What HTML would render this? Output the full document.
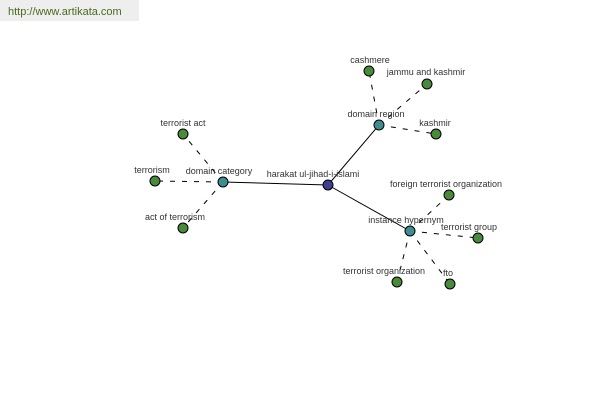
<!DOCTYPE html>
<html><head><style>html,body{margin:0;padding:0;background:#fff;width:600px;height:400px;overflow:hidden}</style></head><body>
<svg width="600" height="400" xmlns="http://www.w3.org/2000/svg" style="position:absolute;left:0;top:0">
<rect x="0" y="0" width="139" height="21" fill="#eeeeee"/>
<text x="8" y="15" font-family="Liberation Sans, sans-serif" font-size="11" fill="#4a6a1e">http://www.artikata.com</text>
<g stroke="#000" stroke-width="1">
<line x1="328" y1="185" x2="223" y2="182"/>
<line x1="328" y1="185" x2="379" y2="125"/>
<line x1="328" y1="185" x2="410" y2="231"/>
</g>
<g stroke="#000" stroke-width="1" stroke-dasharray="5,7">
<line x1="223" y1="182" x2="183" y2="134"/>
<line x1="223" y1="182" x2="155" y2="181"/>
<line x1="223" y1="182" x2="183" y2="228"/>
<line x1="379" y1="125" x2="369" y2="71"/>
<line x1="379" y1="125" x2="427" y2="84"/>
<line x1="379" y1="125" x2="436" y2="134"/>
<line x1="410" y1="231" x2="449" y2="195"/>
<line x1="410" y1="231" x2="478" y2="238"/>
<line x1="410" y1="231" x2="397" y2="282"/>
<line x1="410" y1="231" x2="450" y2="284"/>
</g>
<g stroke="#000" stroke-width="1" fill="#4a8a3c">
<circle cx="183" cy="134" r="5"/><circle cx="155" cy="181" r="5"/><circle cx="183" cy="228" r="5"/>
<circle cx="369" cy="71" r="5"/><circle cx="427" cy="84" r="5"/><circle cx="436" cy="134" r="5"/>
<circle cx="449" cy="195" r="5"/><circle cx="478" cy="238" r="5"/><circle cx="397" cy="282" r="5"/><circle cx="450" cy="284" r="5"/>
</g>
<g stroke="#000" stroke-width="1" fill="#3e8e90">
<circle cx="223" cy="182" r="5"/><circle cx="379" cy="125" r="5"/><circle cx="410" cy="231" r="5"/>
</g>
<circle cx="328" cy="185" r="5" fill="#3f3f8f" stroke="#000"/>
<g font-family="Liberation Sans, sans-serif" font-size="9" fill="#333" text-anchor="middle">
<text x="183" y="126">terrorist act</text>
<text x="152" y="173">terrorism</text>
<text x="175" y="220">act of terrorism</text>
<text x="219" y="174">domain category</text>
<text x="313" y="177">harakat ul-jihad-i-islami</text>
<text x="376" y="117">domain region</text>
<text x="370" y="63">cashmere</text>
<text x="426" y="75">jammu and kashmir</text>
<text x="435" y="126">kashmir</text>
<text x="446" y="187">foreign terrorist organization</text>
<text x="406" y="223">instance hypernym</text>
<text x="469" y="230">terrorist group</text>
<text x="384" y="274">terrorist organization</text>
<text x="448" y="276">fto</text>
</g>
</svg>
</body></html>
